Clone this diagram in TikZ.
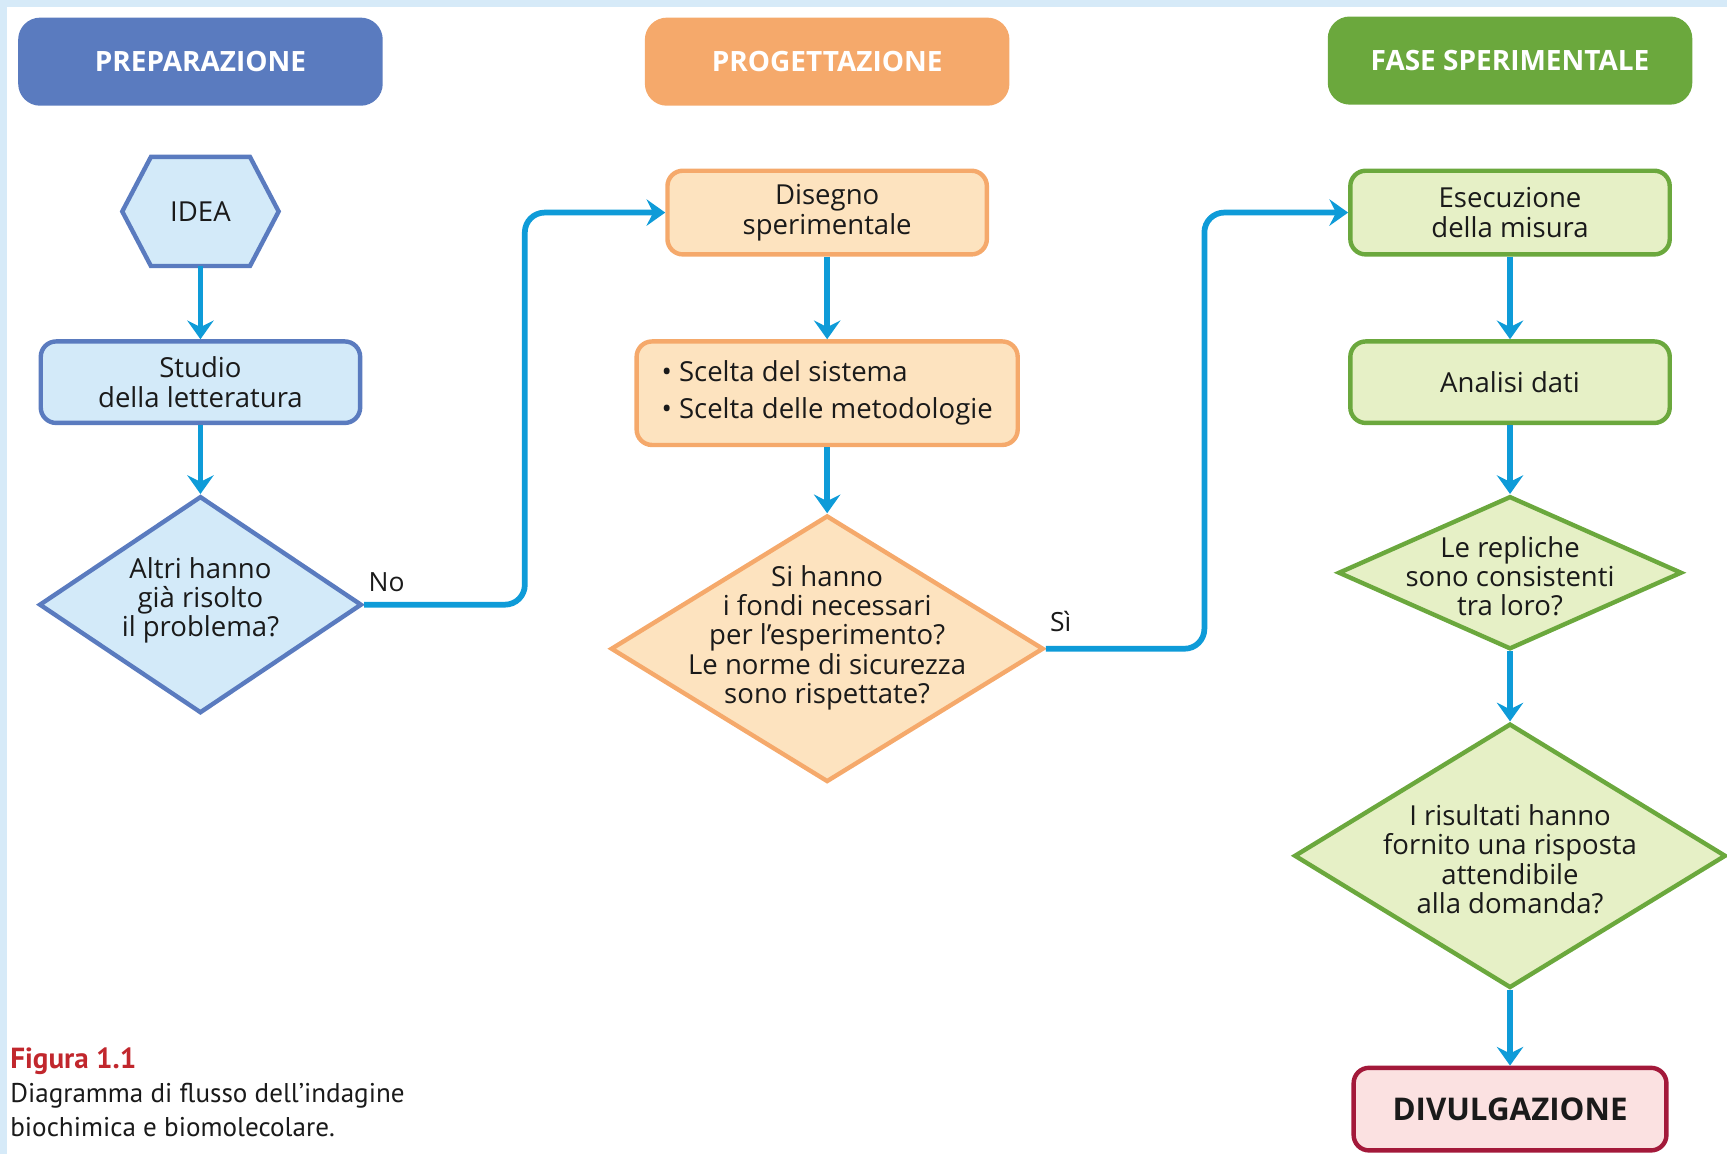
\documentclass[tikz,border=0pt]{standalone}
\usepackage{fontspec}
\setmainfont{Open Sans}
\newfontfamily\capfont{PT Sans}
\usetikzlibrary{shapes.geometric,arrows.meta,calc,backgrounds}
\definecolor{bgblue}{HTML}{D6EAF8}
\definecolor{hblue}{HTML}{5A7BBF}
\definecolor{fblue}{HTML}{D3EAF9}
\definecolor{horange}{HTML}{F5A96B}
\definecolor{forange}{HTML}{FDE3BF}
\definecolor{hgreen}{HTML}{6BA83D}
\definecolor{fgreen}{HTML}{E6F0C6}
\definecolor{arrowblue}{HTML}{0E9BD8}
\definecolor{dred}{HTML}{A3193A}
\definecolor{fred}{HTML}{FBE1E1}
\definecolor{capred}{HTML}{C1272D}
\definecolor{txt}{HTML}{1A1A1A}
\begin{document}
\begin{tikzpicture}[x=0.5pt,y=-0.5pt,
  font=\fontsize{12.5}{13.3}\selectfont, text=txt,
  hdr/.style={rounded corners=10pt, minimum width=165.5pt, minimum height=40pt,
    text=white, font=\fontsize{12.7}{14}\selectfont\bfseries, inner sep=0pt},
  box/.style={draw, rounded corners=7pt, line width=2pt, align=center,
    minimum width=145pt, minimum height=37pt, inner sep=0pt},
  dia/.style={diamond, draw, line width=2pt, inner sep=0pt},
  dlab/.style={align=center, inner sep=0pt},
  arr/.style={draw=arrowblue, line width=2.6pt, rounded corners=9pt,
    -{Stealth[length=8.5pt,width=12pt,inset=3pt]}},
  lbl/.style={font=\fontsize{12}{14}\selectfont},
  captxt/.style={anchor=base west, inner sep=0pt, font=\capfont\fontsize{12.3}{15}\selectfont}
]
\useasboundingbox (0,0) rectangle (1568,1048);
\fill[bgblue] (0,0) rectangle (1568,6);
\fill[bgblue] (0,0) rectangle (6,1048);

% headers
\node[hdr, fill=hblue] (h1) at (182,56) {PREPARAZIONE};
\node[hdr, fill=horange] (h2) at (751,56) {PROGETTAZIONE};
\node[hdr, fill=hgreen] (h3) at (1371,55) {FASE SPERIMENTALE};

% column 1
\node[minimum width=71pt, minimum height=49.5pt, inner sep=0pt, outer sep=0pt] (idea) at (182,192) {IDEA};
\begin{scope}[on background layer]
\filldraw[draw=hblue, fill=fblue, line width=2pt]
  (idea.west) -- ($(idea.north west)+(26,0)$) -- ($(idea.north east)+(-26,0)$)
  -- (idea.east) -- ($(idea.south east)+(-26,0)$) -- ($(idea.south west)+(26,0)$) -- cycle;
\end{scope}
\node[box, draw=hblue, fill=fblue] (stu) at (182,347) {Studio\\della letteratura};
\node[dia, draw=hblue, fill=fblue, minimum width=146.5pt, minimum height=98.5pt,
  label={[dlab, yshift=2pt]center:Altri hanno\\già risolto\\il problema?}] (d1) at (182,549) {};

% column 2
\node[box, draw=horange, fill=forange, minimum height=38pt] (dis) at (751,193) {Disegno\\sperimentale};
\node[box, draw=horange, fill=forange, minimum width=173pt, minimum height=47pt, align=left] (sce) at (751,357)
  {\textbullet\ Scelta del sistema\\[3.5pt]\textbullet\ Scelta delle metodologie};
\node[dia, draw=horange, fill=forange, minimum width=196.5pt, minimum height=121pt,
  label={[dlab, yshift=5pt]center:Si hanno\\i fondi necessari\\per l’esperimento?\\Le norme di sicurezza\\sono rispettate?}] (d2) at (751,589) {};

% column 3
\node[box, draw=hgreen, fill=fgreen, minimum height=38pt] (ese) at (1371,193) {Esecuzione\\della misura};
\node[box, draw=hgreen, fill=fgreen] (ana) at (1371,347) {Analisi dati};
\node[dia, draw=hgreen, fill=fgreen, minimum width=156pt, minimum height=69.5pt,
  label={[dlab, yshift=-1.5pt]center:Le repliche\\sono consistenti\\tra loro?}] (d3) at (1371,520) {};
\node[dia, draw=hgreen, fill=fgreen, minimum width=196pt, minimum height=120pt,
  label={[dlab, yshift=-1.5pt]center:I risultati hanno\\fornito una risposta\\attendibile\\alla domanda?}] (d4) at (1371,777) {};
\node[box, draw=dred, fill=fred, minimum width=142pt, minimum height=37.5pt,
  font=\fontsize{14.2}{16}\selectfont\bfseries] (div) at (1371,1007) {DIVULGAZIONE};

% arrows
\draw[arr] (idea.south) -- (stu.north);
\draw[arr] (stu.south) -- (d1.north);
\draw[arr] (d1.east) -- ++(146,0) |- (dis.west);
\draw[arr] (dis.south) -- (sce.north);
\draw[arr] (sce.south) -- (d2.north);
\draw[arr] (d2.east) -- ++(144,0) |- (ese.west);
\draw[arr] (ese.south) -- (ana.north);
\draw[arr] (ana.south) -- (d3.north);
\draw[arr] (d3.south) -- (d4.north);
\draw[arr] (d4.south) -- (div.north);

% labels
\node[lbl] (lno) at (351,529) {No};
\node[lbl] (lsi) at (963,564) {Sì};

% caption
\node[captxt, font=\capfont\fontsize{13.2}{15}\selectfont\bfseries, text=capred] (cap1) at (9,970) {Figura 1.1};
\node[captxt] (cap2) at (9,1001) {Diagramma di flusso dell’indagine};
\node[captxt] (cap3) at (9,1032) {biochimica e biomolecolare.};
\end{tikzpicture}
\end{document}
